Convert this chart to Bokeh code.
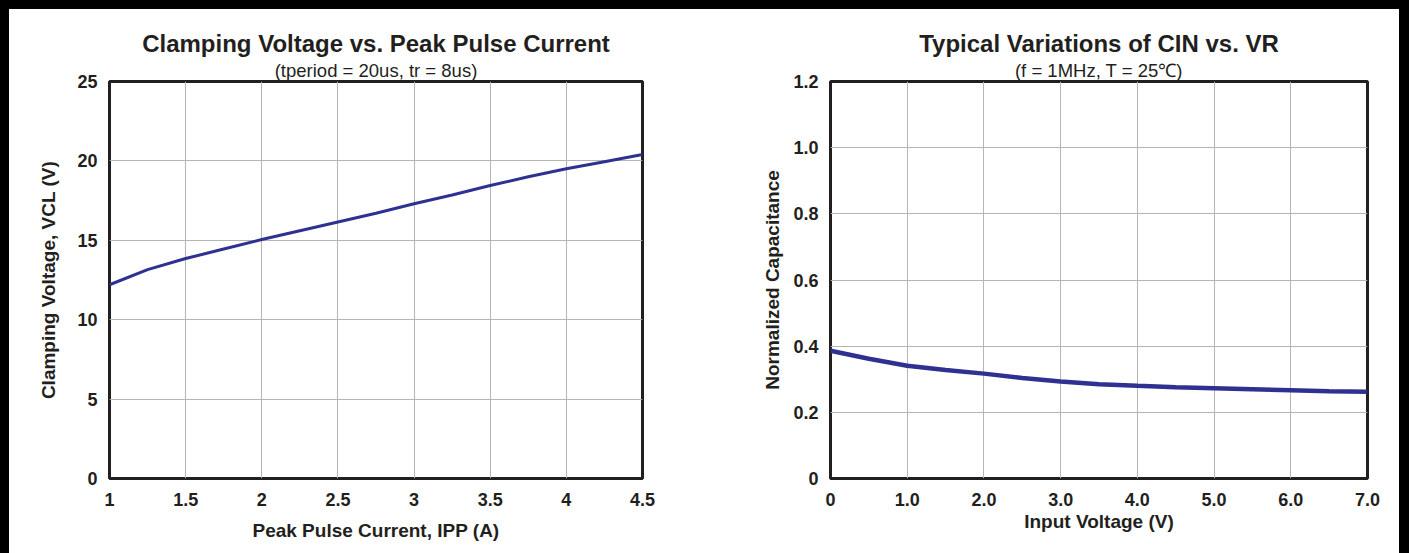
from bokeh.plotting import figure
from bokeh.layouts import row, column
from bokeh.models import Title, FixedTicker, Spacer
from bokeh.embed import file_html
from bokeh.resources import INLINE

# ---- data: chart 1 ----
ipp = [1.0, 1.25, 1.5, 1.75, 2.0, 2.25, 2.5, 2.75, 3.0, 3.25, 3.5, 3.75, 4.0, 4.25, 4.5]
vcl = [12.2, 13.15, 13.85, 14.45, 15.05, 15.6, 16.15, 16.7, 17.3, 17.85, 18.45, 19.0, 19.5, 19.95, 20.4]
x1_ticks = [1, 1.5, 2, 2.5, 3, 3.5, 4, 4.5]
x1_labels = ["1", "1.5", "2", "2.5", "3", "3.5", "4", "4.5"]
y1_ticks = [0, 5, 10, 15, 20, 25]
y1_labels = ["0", "5", "10", "15", "20", "25"]

# ---- data: chart 2 ----
vr = [0, 0.5, 1.0, 1.5, 2.0, 2.5, 3.0, 3.5, 4.0, 4.5, 5.0, 5.5, 6.0, 6.5, 7.0]
cap = [0.386, 0.362, 0.341, 0.328, 0.317, 0.304, 0.293, 0.285, 0.28, 0.276, 0.273, 0.27, 0.267, 0.264, 0.262]
x2_ticks = [0, 1, 2, 3, 4, 5, 6, 7]
x2_labels = ["0", "1.0", "2.0", "3.0", "4.0", "5.0", "6.0", "7.0"]
y2_ticks = [0, 0.2, 0.4, 0.6, 0.8, 1.0, 1.2]
y2_labels = ["0", "0.2", "0.4", "0.6", "0.8", "1.0", "1.2"]

FONT = "Liberation Sans"
LINE = "#2e3192"
GRID = "#b5b5b5"
INK = "#231f20"


def make(width, xr, yr, xt, xl, yt, yl, title, subtitle, xlab, ylab,
         left, right, xlab_standoff, ylab_standoff, title_off, sub_off):
    p = figure(width=width, height=544, x_range=xr, y_range=yr,
               output_backend="svg", toolbar_location=None,
               min_border_left=left, min_border_right=right,
               min_border_top=72, min_border_bottom=75)
    p.title.text = title
    p.title.align = "center"
    p.title.text_font = FONT
    p.title.text_font_size = "24px"
    p.title.text_font_style = "bold"
    p.title.text_color = INK
    p.title.standoff = 0
    p.title.offset = title_off
    sub = Title(text=subtitle, align="center", text_font=FONT,
                text_font_size="18.5px", text_font_style="normal",
                text_color=INK, standoff=2, offset=sub_off)
    p.add_layout(sub, "above")

    p.outline_line_color = INK
    p.outline_line_width = 3
    for ax in (p.xaxis[0], p.yaxis[0]):
        ax.axis_line_color = None
        ax.major_tick_line_color = None
        ax.minor_tick_line_color = None
        ax.major_label_text_font = FONT
        ax.major_label_text_font_size = "18px"
        ax.major_label_text_font_style = "bold"
        ax.major_label_text_color = INK
        ax.axis_label_text_font = FONT
        ax.axis_label_text_font_size = "19px"
        ax.axis_label_text_font_style = "bold"
        ax.axis_label_text_color = INK
    p.xaxis.ticker = FixedTicker(ticks=xt)
    p.xaxis.major_label_overrides = dict(zip(xt, xl))
    p.yaxis.ticker = FixedTicker(ticks=yt)
    p.yaxis.major_label_overrides = dict(zip(yt, yl))
    p.xaxis.axis_label = xlab
    p.yaxis.axis_label = ylab
    p.xaxis.major_label_standoff = 8
    p.yaxis.major_label_standoff = 6
    p.xaxis.axis_label_standoff = xlab_standoff
    p.yaxis.axis_label_standoff = ylab_standoff

    p.xgrid.ticker = FixedTicker(ticks=xt)
    p.ygrid.ticker = FixedTicker(ticks=yt)
    p.grid.grid_line_color = GRID
    p.grid.grid_line_width = 1
    return p


p1 = make(696, (1, 4.5), (0, 25), x1_ticks, x1_labels, y1_ticks, y1_labels,
          "Clamping Voltage vs. Peak Pulse Current",
          "(tperiod = 20us, tr = 8us)",
          "Peak Pulse Current, IPP (A)", "Clamping Voltage, VCL (V)",
          100, 63, 11, 15, -4, 8)
p1.line(ipp, vcl, line_color=LINE, line_width=3)

p2 = make(694, (0, 7), (0, 1.2), x2_ticks, x2_labels, y2_ticks, y2_labels,
          "Typical Variations of CIN vs. VR",
          "(f = 1MHz, T = 25\u2103)",
          "Input Voltage (V)", "Normalized Capacitance",
          125, 32, 2, 7, 0, 0)
p2.line(vr, cap, line_color=LINE, line_width=4.5)

BLACK = {"background-color": "black"}
top_band = Spacer(width=1409, height=9, styles=BLACK)
left_band = Spacer(width=9, height=544, styles=BLACK)
right_band = Spacer(width=10, height=544, styles=BLACK)
body = row(left_band, p1, p2, right_band, spacing=0)
layout = column(top_band, body, spacing=0)

open("out.html", "w").write(file_html(layout, INLINE))
